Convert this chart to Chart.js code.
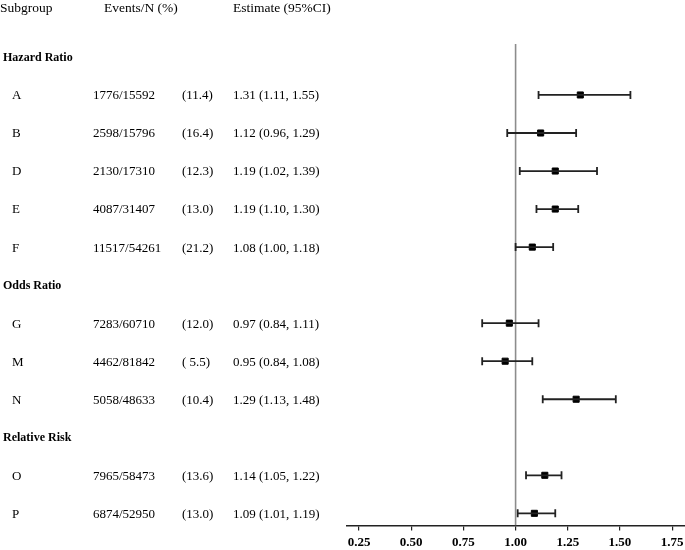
<!DOCTYPE html>
<html>
<head>
<meta charset="utf-8">
<script src="https://cdn.jsdelivr.net/npm/chart.js@4.4.1/dist/chart.umd.min.js"></script>
<style>
  html, body { margin: 0; padding: 0; background: #fff; overflow: hidden; }
  #wrap { width: 690px; height: 550px; position: relative; }
</style>
</head>
<body>
<div id="wrap"><canvas id="forest"></canvas></div>
<script>
// Forest plot data (rows top to bottom, section headers have no values)
const rowLabels = ["Hazard Ratio", "A", "B", "D", "E", "F", "Odds Ratio", "G", "M", "N", "Relative Risk", "O", "P"];
const isSection = [true, false, false, false, false, false, true, false, false, false, true, false, false];
const events = ["", "1776/15592", "2598/15796", "2130/17310", "4087/31407", "11517/54261", "", "7283/60710", "4462/81842", "5058/48633", "", "7965/58473", "6874/52950"];
const percents = ["", "(11.4)", "(16.4)", "(12.3)", "(13.0)", "(21.2)", "", "(12.0)", "( 5.5)", "(10.4)", "", "(13.6)", "(13.0)"];
const estimates = [null, 1.31, 1.12, 1.19, 1.19, 1.08, null, 0.97, 0.95, 1.29, null, 1.14, 1.09];
const lower = [null, 1.11, 0.96, 1.02, 1.10, 1.00, null, 0.84, 0.84, 1.13, null, 1.05, 1.01];
const upper = [null, 1.55, 1.29, 1.39, 1.30, 1.18, null, 1.11, 1.08, 1.48, null, 1.22, 1.19];
const xTicks = [0.25, 0.50, 0.75, 1.00, 1.25, 1.50, 1.75];
const refValue = 1.0;

const serif = "'Liberation Serif', 'DejaVu Serif', serif";

// estimate text, e.g. "1.31 (1.11, 1.55)"
const estText = estimates.map((e, i) => e === null ? "" :
    `${e.toFixed(2)} (${lower[i].toFixed(2)}, ${upper[i].toFixed(2)})`);

// point estimates as scatter points
const pointData = [];
estimates.forEach((e, i) => { if (e !== null) pointData.push({ x: e, y: i }); });

// draws the CI whiskers and the text columns
const forestPlugin = {
    id: "forest",
    afterDatasetsDraw(chart) {
        const ctx = chart.ctx;
        const xs = chart.scales.x;
        const ys = chart.scales.y;
        ctx.save();

        // confidence intervals
        ctx.strokeStyle = "#222";
        ctx.lineWidth = 1.8;
        estimates.forEach((e, i) => {
            if (e === null) return;
            const y = ys.getPixelForValue(i);
            const x1 = xs.getPixelForValue(lower[i]);
            const x2 = xs.getPixelForValue(upper[i]);
            ctx.beginPath();
            ctx.moveTo(x1, y); ctx.lineTo(x2, y);
            ctx.moveTo(x1, y - 4); ctx.lineTo(x1, y + 4);
            ctx.moveTo(x2, y - 4); ctx.lineTo(x2, y + 4);
            ctx.stroke();
        });
        ctx.restore();
    },
    afterDraw(chart) {
        const ctx = chart.ctx;
        const ys = chart.scales.y;
        ctx.save();
        ctx.fillStyle = "#000";
        ctx.textBaseline = "middle";
        ctx.textAlign = "left";

        // header row
        ctx.font = `13.5px ${serif}`;
        ctx.fillText("Subgroup", 0, 8);
        ctx.fillText("Events/N (%)", 104, 8);
        ctx.fillText("Estimate (95%CI)", 233, 8);

        rowLabels.forEach((lab, i) => {
            const y = ys.getPixelForValue(i) + 1;
            if (isSection[i]) {
                ctx.font = `bold 12px ${serif}`;
                ctx.fillText(lab, 3, y);
                return;
            }
            ctx.font = `13px ${serif}`;
            ctx.fillText(lab, 12, y);
            ctx.fillText(events[i], 93, y);
            ctx.fillText(percents[i], 182, y);
            ctx.fillText(estText[i], 233, y);
        });
        ctx.restore();
    }
};

new Chart(document.getElementById("forest"), {
    type: "scatter",
    data: {
        datasets: [
            {
                label: "ref",
                type: "line",
                data: [{ x: refValue, y: -0.34 }, { x: refValue, y: 12.32 }],
                borderColor: "#8c8c8c",
                borderWidth: 1.6,
                pointRadius: 0,
                order: 2
            },
            {
                label: "Estimate",
                data: pointData,
                pointStyle: "rect",
                pointRadius: 4.3,
                backgroundColor: "#000",
                borderColor: "#000",
                borderWidth: 1,
                order: 1
            }
        ]
    },
    options: {
        responsive: true,
        maintainAspectRatio: false,
        animation: false,
        events: [],
        layout: { padding: { left: 347, right: 0, top: 44, bottom: 0 } },
        plugins: {
            legend: { display: false },
            tooltip: { enabled: false }
        },
        scales: {
            x: {
                type: "linear",
                min: 0.1925,
                max: 1.81,
                afterBuildTicks: (scale) => { scale.ticks = xTicks.map(v => ({ value: v })); },
                afterFit: (scale) => {
                    scale.paddingLeft = 0;
                    scale.paddingRight = 0;
                    scale.height = 24.5;
                },
                grid: { display: true, drawOnChartArea: false, drawTicks: true, tickLength: 5, color: "#222", lineWidth: 1.2 },
                border: { display: true, color: "#222", width: 1.5 },
                ticks: {
                    padding: 4,
                    color: "#000",
                    font: { family: serif, size: 13, weight: "bold" },
                    maxRotation: 0,
                    callback: (v) => Number(v).toFixed(2)
                }
            },
            y: {
                type: "linear",
                display: false,
                reverse: true,
                min: -0.34,
                max: 12.32
            }
        }
    },
    plugins: [forestPlugin]
});
</script>
</body>
</html>
